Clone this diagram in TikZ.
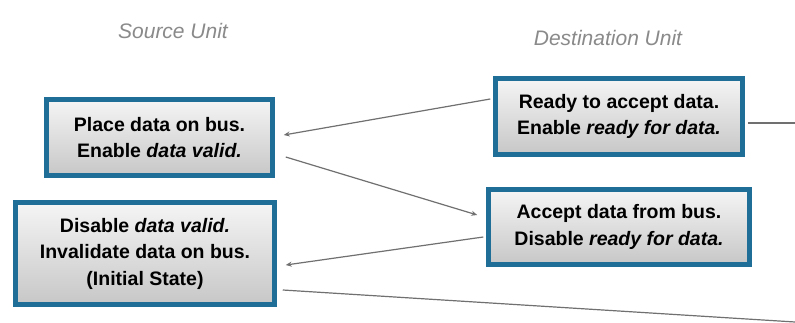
\documentclass[tikz,border=0pt]{standalone}
\usepackage{fontspec}
\setmainfont{Liberation Sans}
\usetikzlibrary{arrows.meta}
\definecolor{boxblue}{HTML}{1E6E98}
\definecolor{linegray}{HTML}{707070}
\definecolor{labelgray}{HTML}{8A8A8A}
\newcommand{\sigit}[1]{{\itshape #1}}
\tikzset{
  statebox/.style={draw=boxblue, line width=4.5pt, top color=white!96!black, bottom color=black!22,
    inner sep=0pt, align=center, font=\fontsize{19.5}{26.5}\selectfont\bfseries},
  unitlabel/.style={font=\fontsize{21}{23}\selectfont\itshape, text=labelgray, inner sep=0pt},
  conn/.style={draw=linegray, line width=1.2pt},
  arr/.style={conn, -{Stealth[length=6pt,width=5pt]}},
}
\begin{document}
\begin{tikzpicture}[x=1pt, y=-1pt]
\useasboundingbox[fill=white] (0,0) rectangle (795,322);
\node[unitlabel] (su) at (173,31) {Source Unit};
\node[unitlabel] (du) at (608,38) {Destination Unit};
\node[statebox, minimum width=226pt, minimum height=76pt] (A) at (159.5,137.5)
  {Place data on bus.\\Enable \sigit{data valid.}};
\node[statebox, minimum width=259pt, minimum height=102pt] (B) at (145,253.5)
  {Disable \sigit{data valid.}\\Invalidate data on bus.\\(Initial State)};
\node[statebox, minimum width=247pt, minimum height=76pt] (C) at (619,116.5)
  {Ready to accept data.\\Enable \sigit{ready for data.}};
\node[statebox, minimum width=261pt, minimum height=75pt] (D) at (619,227)
  {Accept data from bus.\\Disable \sigit{ready for data.}};
\coordinate (outC) at (795,123);
\coordinate (outB) at (795,322);
\begin{scope}
\clip (0,0) rectangle (795,322);
\draw[arr] ([shift={(-3,-17.5)}]C.west) -- ([shift={(9,-2.5)}]A.east);
\draw[arr] ([shift={(11,19.5)}]A.east) -- ([shift={(-9,-12)}]D.west);
\draw[arr] ([shift={(-3,10)}]D.west) -- ([shift={(9,11.5)}]B.east);
\draw[conn] ([shift={(6,36.5)}]B.east) -- (outB);
\draw[conn] ([shift={(3,6.5)}]C.east) -- (outC);
\end{scope}
\end{tikzpicture}
\end{document}
